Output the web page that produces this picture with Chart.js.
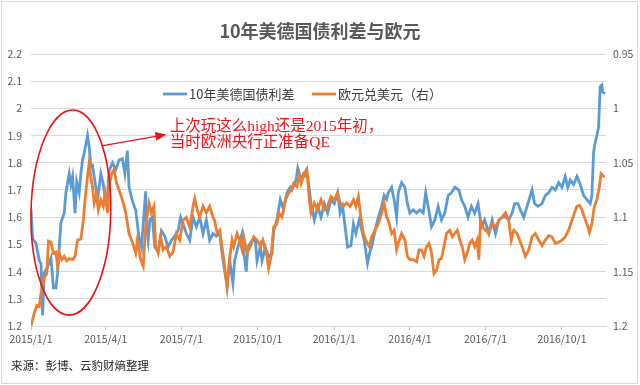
<!DOCTYPE html>
<html>
<head>
<meta charset="utf-8">
<script src="https://cdn.jsdelivr.net/npm/chart.js@4/dist/chart.umd.min.js"></script>
<style>
  html, body { margin: 0; padding: 0; background: #fff; }
  canvas { display: block; }
</style>
</head>
<body>
<canvas id="spread-chart" width="640" height="385"></canvas>
<script>
// x values are days since 2015/1/1
const quarterDays = [0, 90, 181, 273, 365, 456, 547, 639];
const quarterLabels = ['2015/1/1', '2015/4/1', '2015/7/1', '2015/10/1', '2016/1/1', '2016/4/1', '2016/7/1', '2016/10/1'];

// 10年美德国债利差 (left axis)
const spreadDay = [
  0, 2, 6, 10, 12, 14, 16, 20, 24, 27,
  30, 32, 34, 36, 40, 42, 46, 48, 50, 53,
  55, 58, 60, 62, 64, 68, 70, 72, 74, 78,
  80, 84, 87, 90, 92, 94, 98, 102, 106, 110,
  113, 116, 118, 122, 126, 130, 133, 138, 139, 141,
  143, 146, 149, 153, 157, 161, 165, 169, 173, 177,
  180, 183, 187, 191, 195, 199, 203, 207, 211, 215,
  219, 223, 227, 231, 236, 239, 243, 245, 249, 254,
  256, 259, 261, 266, 270, 272, 276, 278, 282, 286,
  290, 292, 296, 300, 304, 308, 312, 314, 319, 321,
  325, 328, 331, 333, 337, 341, 345, 349, 353, 357,
  361, 365, 369, 372, 375, 378, 381, 385, 388, 391,
  395, 397, 401, 405, 408, 410, 414, 418, 422, 425,
  428, 430, 434, 437, 440, 442, 446, 450, 453, 456,
  460, 464, 468, 472, 475, 478, 482, 486, 490, 494,
  498, 502, 506, 510, 515, 518, 522, 526, 530, 534,
  538, 542, 546, 551, 555, 559, 563, 567, 571, 575,
  579, 582, 586, 589, 593, 597, 601, 603, 606, 610,
  615, 619, 623, 627, 631, 635, 639, 643, 646, 649,
  653, 657, 661, 665, 669, 673, 675, 677, 678, 681,
  683, 685, 687, 688, 691
];
const spreadValue = [
  1.63, 1.52, 1.505, 1.44, 1.43, 1.24, 1.395, 1.417, 1.45, 1.34,
  1.34, 1.395, 1.49, 1.58, 1.615, 1.69, 1.76, 1.72, 1.75, 1.615,
  1.73, 1.69, 1.76, 1.81, 1.835, 1.90, 1.86, 1.785, 1.79, 1.71,
  1.66, 1.76, 1.72, 1.66, 1.68, 1.77, 1.80, 1.775, 1.81, 1.815,
  1.76, 1.845, 1.71, 1.66, 1.625, 1.525, 1.49, 1.695, 1.565, 1.515,
  1.59, 1.60, 1.49, 1.475, 1.55, 1.53, 1.49, 1.515, 1.53, 1.55,
  1.60, 1.575, 1.54, 1.515, 1.60, 1.565, 1.60, 1.54, 1.59, 1.515,
  1.54, 1.53, 1.54, 1.443, 1.345, 1.443, 1.357, 1.44, 1.49, 1.54,
  1.475, 1.40, 1.49, 1.515, 1.515, 1.44, 1.49, 1.44, 1.49, 1.455,
  1.465, 1.55, 1.59, 1.665, 1.627, 1.69, 1.71, 1.70, 1.737, 1.78,
  1.737, 1.76, 1.75, 1.75, 1.65, 1.59, 1.64, 1.60, 1.65, 1.615,
  1.665, 1.65, 1.69, 1.615, 1.64, 1.565, 1.49, 1.495, 1.575, 1.54,
  1.59, 1.565, 1.515, 1.43, 1.475, 1.49, 1.55, 1.60, 1.64, 1.68,
  1.665, 1.69, 1.71, 1.665, 1.60, 1.69, 1.727, 1.71, 1.65, 1.615,
  1.627, 1.615, 1.627, 1.615, 1.69, 1.64, 1.565, 1.59, 1.64, 1.59,
  1.615, 1.68, 1.69, 1.71, 1.70, 1.665, 1.64, 1.60, 1.64, 1.615,
  1.65, 1.565, 1.59, 1.54, 1.59, 1.54, 1.59, 1.60, 1.60, 1.59,
  1.615, 1.65, 1.65, 1.627, 1.60, 1.64, 1.68, 1.70, 1.65, 1.64,
  1.65, 1.68, 1.69, 1.71, 1.70, 1.727, 1.71, 1.75, 1.71, 1.737,
  1.72, 1.75, 1.72, 1.68, 1.665, 1.65, 1.68, 1.835, 1.86, 1.90,
  1.93, 2.08, 2.086, 2.06, 2.055
];

// 欧元兑美元 (right axis, reversed)
const eurDay = [
  0, 4, 7, 10, 12, 14, 16, 19, 21, 24,
  27, 30, 32, 34, 37, 40, 43, 46, 50, 53,
  56, 60, 63, 65, 68, 70, 72, 74, 76, 79,
  81, 84, 87, 89, 92, 94, 97, 100, 103, 106,
  110, 114, 118, 122, 126, 128, 132, 135, 138, 142,
  145, 148, 150, 153, 156, 159, 163, 167, 171, 175,
  179, 183, 187, 191, 195, 197, 200, 203, 207, 211,
  215, 219, 221, 224, 227, 231, 233, 236, 239, 242,
  244, 248, 251, 254, 256, 260, 264, 268, 272, 276,
  279, 284, 286, 289, 292, 296, 298, 302, 306, 310,
  313, 316, 320, 323, 325, 329, 332, 335, 337, 341,
  345, 349, 353, 357, 361, 365, 369, 372, 376, 380,
  384, 388, 391, 394, 397, 400, 403, 407, 410, 414,
  418, 422, 425, 428, 430, 434, 437, 440, 442, 446,
  450, 453, 456, 460, 464, 467, 470, 473, 476, 479,
  482, 485, 488, 491, 494, 497, 500, 504, 507, 510,
  513, 516, 519, 522, 525, 528, 531, 534, 537, 539,
  541, 544, 547, 551, 555, 559, 563, 567, 571, 575,
  578, 581, 585, 588, 591, 595, 599, 603, 607, 611,
  615, 619, 623, 627, 631, 635, 639, 643, 647, 651,
  654, 657, 660, 663, 666, 669, 672, 675, 678, 681,
  684, 686, 690
];
const eurUsd = [
  1.2, 1.188, 1.181, 1.182, 1.17, 1.164, 1.155, 1.152, 1.122, 1.123,
  1.133, 1.132, 1.145, 1.133, 1.139, 1.136, 1.14, 1.138, 1.139, 1.136,
  1.121, 1.12, 1.103, 1.084, 1.063, 1.05, 1.063, 1.072, 1.087, 1.078,
  1.093, 1.084, 1.09, 1.078, 1.096, 1.072, 1.06, 1.056, 1.069, 1.075,
  1.084, 1.096, 1.115, 1.123, 1.133, 1.121, 1.139, 1.145, 1.109, 1.087,
  1.096, 1.09, 1.127, 1.133, 1.118, 1.13, 1.127, 1.136, 1.132, 1.115,
  1.121, 1.103, 1.1, 1.109, 1.09, 1.083, 1.093, 1.1, 1.09, 1.096,
  1.09, 1.1, 1.103, 1.115, 1.112, 1.133, 1.145, 1.164, 1.139, 1.121,
  1.127, 1.115, 1.121, 1.13, 1.118, 1.133, 1.127, 1.118, 1.121, 1.127,
  1.121, 1.136, 1.147, 1.136, 1.109, 1.106, 1.096, 1.1, 1.084, 1.078,
  1.075, 1.069, 1.072, 1.061, 1.069, 1.06, 1.056, 1.084, 1.096, 1.087,
  1.093, 1.084, 1.093, 1.09, 1.081, 1.084, 1.078, 1.087, 1.09, 1.087,
  1.09, 1.084, 1.09, 1.081, 1.1, 1.115, 1.121, 1.127, 1.118, 1.112,
  1.106, 1.096, 1.087, 1.1, 1.103, 1.115, 1.112, 1.13, 1.124, 1.115,
  1.121, 1.136, 1.139, 1.139, 1.141, 1.13, 1.13, 1.136, 1.127, 1.124,
  1.133, 1.152, 1.149, 1.139, 1.138, 1.127, 1.115, 1.112, 1.118, 1.115,
  1.112, 1.121, 1.127, 1.139, 1.133, 1.124, 1.121, 1.127, 1.121, 1.139,
  1.103, 1.109, 1.112, 1.115, 1.106, 1.109, 1.103, 1.1, 1.096, 1.103,
  1.121, 1.112, 1.115, 1.121, 1.127, 1.136, 1.13, 1.118, 1.115, 1.121,
  1.126, 1.121, 1.117, 1.118, 1.124, 1.123, 1.121, 1.118, 1.112, 1.103,
  1.096, 1.09, 1.089, 1.093, 1.1, 1.106, 1.114, 1.106, 1.09, 1.084,
  1.072, 1.06, 1.063
];

const seriesNames = ['10年美德国债利差', '欧元兑美元（右）'];
const chartTitle = '10年美德国债利差与欧元';
const noteLines = ['上次玩这么high还是2015年初，', '当时欧洲央行正准备QE'];
const sourceText = '来源：彭博、云豹财熵整理';

const BLUE = '#5B9BD5';
const ORANGE = '#ED7D31';
const GRID = '#d9d9d9';
const TEXT = '#595959';
const CJK = '"Noto Sans CJK SC", "Noto Sans", sans-serif';

function toPoints(days, values) {
    return days.map((d, i) => ({ x: d, y: values[i] }));
}

const decorations = {
    id: 'decorations',
    afterDraw(chart) {
        const ctx = chart.ctx;
        const xs = chart.scales.x;
        const yl = chart.scales.yL;
        ctx.save();

        // outer frame
        ctx.strokeStyle = GRID;
        ctx.lineWidth = 1;
        ctx.strokeRect(1.5, 1.5, 636, 382);

        // title
        ctx.fillStyle = TEXT;
        ctx.font = 'bold 18px ' + CJK;
        ctx.textAlign = 'center';
        ctx.textBaseline = 'middle';
        ctx.fillText(chartTitle, 320, 31);

        // legend
        ctx.font = '13px ' + CJK;
        ctx.textAlign = 'left';
        ctx.lineWidth = 2.8;
        ctx.strokeStyle = BLUE;
        ctx.beginPath(); ctx.moveTo(163, 94); ctx.lineTo(187, 94); ctx.stroke();
        ctx.fillStyle = '#404040';
        ctx.fillText(seriesNames[0], 189, 94);
        ctx.strokeStyle = ORANGE;
        ctx.beginPath(); ctx.moveTo(312, 94); ctx.lineTo(336, 94); ctx.stroke();
        ctx.fillText(seriesNames[1], 338, 94);

        // ellipse around early 2015
        const cx = xs.getPixelForValue(48);
        const cy = yl.getPixelForValue(1.617);
        const rx = xs.getPixelForValue(48 + 48) - cx;
        const ry = cy - yl.getPixelForValue(1.617 + 0.377);
        ctx.strokeStyle = '#e8141b';
        ctx.lineWidth = 1.6;
        ctx.beginPath();
        ctx.ellipse(cx, cy, rx, ry, 0.02, 0, Math.PI * 2);
        ctx.stroke();

        // arrow
        const ax0 = xs.getPixelForValue(85), ay0 = yl.getPixelForValue(1.862);
        const ax1 = xs.getPixelForValue(163), ay1 = yl.getPixelForValue(1.904);
        const ang = Math.atan2(ay1 - ay0, ax1 - ax0);
        ctx.lineWidth = 1.2;
        ctx.beginPath(); ctx.moveTo(ax0, ay0); ctx.lineTo(ax1 - 8 * Math.cos(ang), ay1 - 8 * Math.sin(ang)); ctx.stroke();
        ctx.fillStyle = '#e8141b';
        ctx.beginPath();
        ctx.moveTo(ax1, ay1);
        ctx.lineTo(ax1 - 11 * Math.cos(ang) + 4.5 * Math.sin(ang), ay1 - 11 * Math.sin(ang) - 4.5 * Math.cos(ang));
        ctx.lineTo(ax1 - 11 * Math.cos(ang) - 4.5 * Math.sin(ang), ay1 - 11 * Math.sin(ang) + 4.5 * Math.cos(ang));
        ctx.closePath();
        ctx.fill();

        // note text
        ctx.fillStyle = '#f0141e';
        ctx.font = '15.5px "Liberation Serif", "Noto Sans CJK SC", serif';
        ctx.textBaseline = 'middle';
        const tx = xs.getPixelForValue(167);
        ctx.fillText(noteLines[0], tx, yl.getPixelForValue(1.932));
        ctx.fillText(noteLines[1], tx, yl.getPixelForValue(1.873));

        // source
        ctx.fillStyle = '#262626';
        ctx.font = '11.5px ' + CJK;
        ctx.fillText(sourceText, 11, 366);

        ctx.restore();
    }
};

const chart = new Chart(document.getElementById('spread-chart'), {
    type: 'line',
    data: {
        datasets: [
            {
                label: seriesNames[0],
                data: toPoints(spreadDay, spreadValue),
                yAxisID: 'yL',
                borderColor: BLUE,
                borderWidth: 2.8,
                pointRadius: 0,
                tension: 0,
                order: 1
            },
            {
                label: seriesNames[1],
                data: toPoints(eurDay, eurUsd),
                yAxisID: 'yR',
                borderColor: ORANGE,
                borderWidth: 2.8,
                pointRadius: 0,
                tension: 0,
                order: 0
            }
        ]
    },
    options: {
        responsive: false,
        animation: false,
        events: [],
        layout: { padding: { top: 54, left: 0, right: 0, bottom: 0 } },
        plugins: {
            legend: { display: false },
            title: { display: false },
            tooltip: { enabled: false }
        },
        scales: {
            x: {
                type: 'linear',
                min: 0,
                max: 692,
                afterBuildTicks: axis => {
                    axis.ticks = quarterDays.map(v => ({ value: v }));
                },
                afterFit: axis => { axis.height = 59; },
                ticks: {
                    autoSkip: false,
                    maxRotation: 0,
                    padding: 3,
                    color: TEXT,
                    font: { family: CJK, size: 10.5 },
                    callback: (v, i) => quarterLabels[i]
                },
                grid: { drawOnChartArea: false, drawTicks: true, tickLength: 4, color: '#bfbfbf' },
                border: { color: GRID }
            },
            yL: {
                position: 'left',
                min: 1.2,
                max: 2.2,
                afterFit: axis => { axis.width = 31; },
                ticks: {
                    stepSize: 0.1,
                    padding: 9,
                    color: TEXT,
                    font: { family: CJK, size: 10.5 },
                    callback: v => String(+v.toFixed(2))
                },
                grid: { color: GRID, drawTicks: false },
                border: { display: false }
            },
            yR: {
                position: 'right',
                reverse: true,
                min: 0.95,
                max: 1.2,
                afterFit: axis => { axis.width = 34; },
                ticks: {
                    stepSize: 0.05,
                    padding: 7,
                    color: TEXT,
                    font: { family: CJK, size: 10.5 },
                    callback: v => String(+v.toFixed(2))
                },
                grid: { drawOnChartArea: false, drawTicks: false },
                border: { display: false }
            }
        }
    },
    plugins: [decorations]
});
</script>
</body>
</html>
